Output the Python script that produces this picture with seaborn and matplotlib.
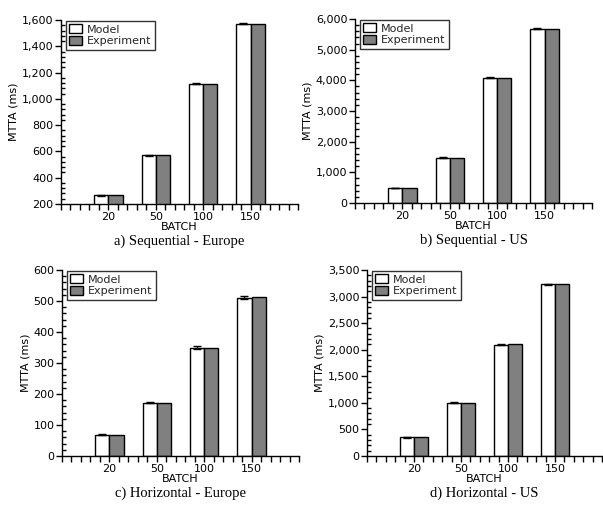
import matplotlib
matplotlib.use("Agg")
import matplotlib.pyplot as plt
from matplotlib.ticker import MultipleLocator, FuncFormatter
from matplotlib.patches import Patch
import pandas as pd
import seaborn as sns

# Data
BATCHES = ["20", "50", "100", "150"]
SERIES = ["Model", "Experiment"]

seq_eu_model = [265, 570, 1115, 1573]
seq_eu_exp = [265, 570, 1113, 1573]
seq_eu_err = [3, 4, 5, 5]

seq_us_model = [490, 1480, 4085, 5690]
seq_us_exp = [490, 1478, 4085, 5690]
seq_us_err = [12, 15, 20, 20]

hor_eu_model = [69, 172, 350, 511]
hor_eu_exp = [69, 172, 349, 513]
hor_eu_err = [1.5, 2.5, 3.5, 4]

hor_us_model = [355, 1005, 2095, 3230]
hor_us_exp = [355, 1005, 2100, 3230]
hor_us_err = [10, 10, 15, 15]

CAPTIONS = ["a) Sequential - Europe", "b) Sequential - US",
            "c) Horizontal - Europe", "d) Horizontal - US"]

panels = [
    (seq_eu_model, seq_eu_exp, seq_eu_err, (200, 1600), 200, 40),
    (seq_us_model, seq_us_exp, seq_us_err, (0, 6000), 1000, 200),
    (hor_eu_model, hor_eu_exp, hor_eu_err, (0, 600), 100, 20),
    (hor_us_model, hor_us_exp, hor_us_err, (0, 3500), 500, 100),
]

# axes boxes in pixels: left, right, top, bottom
W, H = 603, 508
boxes = [(61, 298, 20, 204), (355, 592, 19, 203),
         (62, 299, 270, 456), (367, 602, 270, 456)]

sns.set_theme(style="ticks")
plt.rcParams["font.family"] = ["DejaVu Sans"]

fig = plt.figure(figsize=(W / 100, H / 100), dpi=100)
palette = {"Model": "white", "Experiment": "#808080"}
comma = FuncFormatter(lambda v, p: f"{int(v):,}")

for (model, exp, err, ylim, major, minor), (l, r, t, b), cap in zip(panels, boxes, CAPTIONS):
    ax = fig.add_axes([l / W, 1 - b / H, (r - l) / W, (b - t) / H])
    df = pd.DataFrame({
        "batch": BATCHES * 2,
        "series": ["Model"] * 4 + ["Experiment"] * 4,
        "value": model + exp,
    })
    sns.barplot(data=df, x="batch", y="value", hue="series", order=BATCHES,
                hue_order=SERIES, palette=palette, edgecolor="black",
                linewidth=1, width=0.6, errorbar=None, ax=ax, legend=False)
    # tiny error bars on the model bars
    model_bars = ax.patches[:4]
    xs = [p.get_x() + p.get_width() / 2 for p in model_bars]
    ax.errorbar(xs, model, yerr=err, fmt="none", ecolor="black",
                elinewidth=1, capsize=3, capthick=1)

    ax.set_xlim(-1, 4)
    ax.set_ylim(*ylim)
    ax.yaxis.set_major_locator(MultipleLocator(major))
    ax.yaxis.set_minor_locator(MultipleLocator(minor))
    ax.yaxis.set_major_formatter(comma)
    ax.xaxis.set_minor_locator(MultipleLocator(0.2))
    ax.tick_params(axis="both", which="major", labelsize=8, length=4,
                   width=1, color="black", labelcolor="black", pad=1.5)
    ax.tick_params(axis="y", which="minor", direction="in", length=3, width=1, color="black")
    ax.tick_params(axis="x", which="minor", direction="out", length=4, width=1, color="black")
    ax.tick_params(axis="x", which="major", pad=2)
    for s in ["top", "right"]:
        ax.spines[s].set_visible(False)
    for s in ["left", "bottom"]:
        ax.spines[s].set_color("black")
        ax.spines[s].set_linewidth(1)
    ax.set_ylabel("MTTA (ms)", fontsize=8, color="black", labelpad=2)
    ax.set_xlabel("BATCH", fontsize=8, color="black", labelpad=0)

    handles = [Patch(facecolor="white", edgecolor="black", label="Model"),
               Patch(facecolor="#808080", edgecolor="black", label="Experiment")]
    leg = ax.legend(handles=handles, loc="upper left", bbox_to_anchor=(0.015, 1.0),
                    fontsize=8, frameon=True, fancybox=False, borderpad=0.3,
                    handlelength=1.2, handleheight=0.8, handletextpad=0.4,
                    labelspacing=0.15, borderaxespad=0.1)
    leg.get_frame().set_edgecolor("black")
    leg.get_frame().set_linewidth(1)

    fig.text((l + r) / 2 / W, 1 - (b + 37) / H, cap, ha="center", va="center",
             fontsize=10.5, family="Liberation Serif", color="black")

fig.savefig("out.png", dpi=100)
